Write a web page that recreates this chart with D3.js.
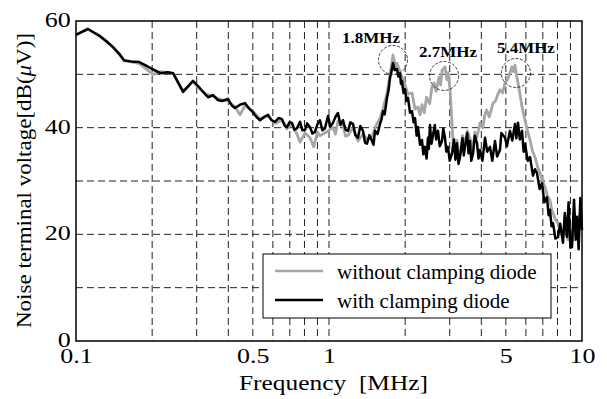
<!DOCTYPE html>
<html>
<head>
<meta charset="utf-8">
<script src="https://cdn.jsdelivr.net/npm/d3@7"></script>
<style>
  body { margin: 0; background: #fff; }
  text { font-family: "Liberation Serif", "Times New Roman", serif; }
</style>
</head>
<body>
<div id="chart"></div>
<script>
// data (frequency in MHz, level in dB(uV))
var freqGray = [0.100,0.1115,0.124,0.140,0.155,0.178,0.192,0.2015,0.217,0.242,0.265,0.290,0.309,0.3265,0.348,0.378,0.399,0.425,0.445,0.466,0.500,0.534,0.574,0.612,0.652,0.682,0.714,0.747,0.768,0.804,0.841,0.870,0.900,0.921,0.964,0.991,1.037,1.060,1.085,1.136,1.162,1.189,1.244,1.302,1.363,1.413,1.479,1.520,1.591,1.635,1.695,1.742,1.791,1.83,1.857,1.908,1.943,1.997,2.053,2.128,2.188,2.248,2.29,2.331,2.38,2.43,2.50,2.55,2.60,2.65,2.72,2.76,2.80,2.874,2.92,2.954,3.01,3.064,3.10,3.16,3.206,3.25,3.295,3.37,3.447,3.52,3.607,3.708,3.77,3.845,3.953,4.05,4.137,4.20,4.30,4.45,4.55,4.65,4.74,4.85,4.963,5.08,5.19,5.28,5.35,5.433,5.50,5.585,5.70,5.794,5.953,6.10,6.231,6.38,6.52,6.68,6.823,7.00,7.14,7.30,7.47,7.60,7.68,7.85,8.04,8.20,8.41,8.60,8.80,8.97,9.20,9.40,9.55,9.75,10.0];
var dbGray = [57.4,58.5,57.2,55.1,52.6,52.0,50.8,50.0,50.5,50.2,46.9,48.6,47.2,46.3,45.9,45.2,45.0,43.9,42.4,44.2,43.1,41.6,42.2,40.8,41.4,39.8,40.6,38.8,37.3,39.0,38.1,36.4,39.2,38.5,39.0,39.4,40.1,38.8,41.2,40.5,38.4,38.6,40.0,37.5,38.8,37.8,38.2,40.0,41.8,43.5,46.5,50.0,53.6,51.5,52.1,50.5,49.5,48.0,46.3,46.5,43.5,43.9,42.4,44.3,42.8,45.7,44.5,47.5,48.4,46.8,49.5,48.0,50.8,51.4,49.0,50.3,47.1,40.9,36.0,35.2,37.6,34.0,35.0,38.5,36.8,39.4,38.0,36.0,39.2,38.2,40.9,40.0,42.5,43.3,42.0,44.6,45.0,46.3,47.1,46.5,48.4,49.0,50.25,51.4,50.5,51.75,50.0,48.4,46.0,43.9,41.4,39.2,37.7,35.5,34.5,32.6,31.5,29.8,28.9,27.2,26.4,24.5,24.0,22.8,22.1,20.6,19.5,21.5,19.0,20.8,18.8,21.8,19.5,23.5,22.7];

var freqBlack = [0.100,0.106,0.1115,0.118,0.124,0.132,0.140,0.148,0.155,0.165,0.178,0.190,0.200,0.217,0.230,0.242,0.253,0.265,0.278,0.290,0.309,0.3265,0.3325,0.348,0.363,0.378,0.399,0.412,0.425,0.445,0.466,0.483,0.500,0.517,0.534,0.553,0.574,0.592,0.612,0.632,0.652,0.668,0.682,0.698,0.714,0.730,0.747,0.768,0.785,0.804,0.820,0.841,0.860,0.880,0.900,0.921,0.942,0.964,0.991,1.012,1.037,1.060,1.085,1.110,1.136,1.162,1.189,1.215,1.244,1.272,1.302,1.330,1.363,1.388,1.413,1.445,1.479,1.500,1.520,1.555,1.591,1.612,1.635,1.66,1.695,1.72,1.742,1.765,1.791,1.82,1.857,1.88,1.908,1.925,1.943,1.97,1.997,2.025,2.053,2.09,2.128,2.16,2.188,2.22,2.248,2.29,2.331,2.36,2.395,2.43,2.462,2.48,2.507,2.54,2.576,2.62,2.65,2.697,2.74,2.797,2.83,2.874,2.91,2.954,3.00,3.064,3.12,3.16,3.206,3.25,3.295,3.37,3.41,3.447,3.52,3.56,3.607,3.65,3.708,3.77,3.845,3.90,3.953,4.04,4.137,4.22,4.329,4.42,4.53,4.62,4.74,4.80,4.963,5.05,5.19,5.30,5.433,5.50,5.585,5.68,5.794,5.88,5.953,6.10,6.231,6.40,6.52,6.637,6.80,6.95,7.10,7.27,7.38,7.47,7.58,7.68,7.85,8.04,8.20,8.41,8.55,8.72,8.85,9.00,9.13,9.30,9.45,9.55,9.70,9.85,10.0];
var dbBlack = [57.4,58.0,58.5,57.8,57.2,56.2,55.1,53.9,52.6,52.4,52.3,51.6,51.0,50.2,50.4,50.2,48.5,46.7,47.8,48.8,47.4,46.1,45.7,46.1,45.2,45.0,45.4,44.2,43.7,44.3,44.6,43.6,42.9,42.0,41.4,42.0,42.4,41.4,41.1,41.8,41.6,40.4,40.1,41.0,40.9,39.6,39.9,41.1,39.5,39.6,40.8,40.1,38.9,39.2,40.6,41.4,39.5,39.9,42.2,40.2,40.9,42.0,42.75,40.5,41.4,39.6,39.4,41.0,40.7,38.6,38.1,40.3,39.4,37.2,37.0,38.6,37.5,36.8,39.4,38.8,40.7,41.5,43.1,42.5,45.6,47.0,49.3,50.5,52.1,50.8,51.0,49.6,50.2,48.2,48.75,46.5,47.2,45.0,45.6,42.8,43.1,41.0,41.8,38.5,40.1,36.8,37.7,35.0,36.4,34.2,38.1,36.0,40.5,37.0,38.6,40.5,37.8,39.4,36.5,37.5,39.8,38.1,35.5,36.4,33.8,35.2,37.8,34.0,37.1,33.2,34.5,38.0,34.8,36.4,39.0,35.2,37.5,33.8,35.1,38.5,37.1,34.2,35.8,33.8,38.1,35.5,36.4,33.8,37.5,34.6,35.8,39.0,38.1,36.5,39.4,37.6,40.7,38.0,40.9,37.8,39.4,35.5,37.0,33.8,34.5,31.0,32.2,31.5,28.5,29.6,26.0,27.0,23.6,24.6,21.5,22.1,19.2,19.5,22.0,18.4,24.0,19.5,26.0,17.5,17.6,26.5,19.0,23.3,17.2,26.8,20.8];

var seriesNames = ["without clamping diode", "with clamping diode"];
var xTicks = [0.1, 0.5, 1, 5, 10];
var yTicks = [0, 20, 40, 60];
var xGrid = [0.2,0.3,0.4,0.5,0.6,0.7,0.8,0.9,1,2,3,4,5,6,7,8,9];
var yGrid = [10, 20, 30, 40, 50];

// peak markers
var peakLabels = ["1.8MHz", "2.7MHz", "5.4MHz"];
var peakFreq = [1.79, 2.85, 5.48];
var peakDb = [52.7, 49.7, 50.25];

var margin = { top: 21, right: 25, bottom: 58, left: 76 };
var width = 607 - margin.left - margin.right;
var height = 399 - margin.top - margin.bottom;

var svg = d3.select("#chart")
  .append("svg")
    .attr("width", 607)
    .attr("height", 399)
  .append("g")
    .attr("transform", `translate(${margin.left},${margin.top})`);

var xScale = d3.scaleLog().domain([0.1, 10]).range([0, width]);
var yScale = d3.scaleLinear().domain([0, 60]).range([height, 0]);

// dashed grid
svg.selectAll(".vgrid")
  .data(xGrid)
  .enter().append("line")
  .attr("x1", d => xScale(d)).attr("x2", d => xScale(d))
  .attr("y1", 0).attr("y2", height)
  .attr("stroke", "#222").attr("stroke-width", 1)
  .attr("stroke-dasharray", "7,4");

svg.selectAll(".hgrid")
  .data(yGrid)
  .enter().append("line")
  .attr("x1", 0).attr("x2", width)
  .attr("y1", d => yScale(d)).attr("y2", d => yScale(d))
  .attr("stroke", "#222").attr("stroke-width", 1)
  .attr("stroke-dasharray", "7,4");

var line = d3.line()
  .x(d => xScale(d[0]))
  .y(d => yScale(d[1]));

svg.append("path")
  .datum(d3.zip(freqGray, dbGray))
  .attr("fill", "none")
  .attr("stroke", "#a6a6a6")
  .attr("stroke-width", 2.8)
  .attr("stroke-linejoin", "round")
  .attr("d", line);

svg.append("path")
  .datum(d3.zip(freqBlack, dbBlack))
  .attr("fill", "none")
  .attr("stroke", "#000")
  .attr("stroke-width", 2.5)
  .attr("stroke-linejoin", "round")
  .attr("d", line);

// frame
svg.append("rect")
  .attr("width", width).attr("height", height)
  .attr("fill", "none").attr("stroke", "#000").attr("stroke-width", 1.5);

// axes (labels only) - the scanned type is wide, so stretch it sideways
var xAxis = svg.append("g")
  .attr("transform", "translate(0," + height + ")")
  .call(d3.axisBottom(xScale).tickValues(xTicks).tickSize(0).tickPadding(8).tickFormat(d => d));
var yAxis = svg.append("g")
  .call(d3.axisLeft(yScale).tickValues(yTicks).tickSize(0).tickPadding(4).tickFormat(d => d));
xAxis.select(".domain").remove();
yAxis.select(".domain").remove();
svg.selectAll(".tick text")
  .style("font-family", "'Liberation Serif', serif")
  .style("font-size", "20px")
  .attr("fill", "#000")
  .attr("transform", "scale(1.3,1)");
yAxis.selectAll(".tick text").attr("dy", "0.28em");

svg.append("text")
  .attr("x", 163)
  .attr("y", height + 49)
  .attr("textLength", 189)
  .attr("lengthAdjust", "spacingAndGlyphs")
  .style("font-size", "20px")
  .attr("xml:space", "preserve")
  .text("Frequency  [MHz]");

var ylab = svg.append("text")
  .attr("transform", "rotate(-90)")
  .attr("x", 0 - 307)
  .attr("y", -45)
  .attr("textLength", 295)
  .attr("lengthAdjust", "spacingAndGlyphs")
  .style("font-size", "20px");
ylab.append("tspan").text("Noise terminal voltage[dB(");
ylab.append("tspan").style("font-style", "italic").text("\u03bc");
ylab.append("tspan").text("V)]");

// peak circles and labels
var labelOffset = [[-22, -17], [4, -19], [10, -20]];
peakLabels.forEach(function(lbl, i) {
  var cx = xScale(peakFreq[i]), cy = yScale(peakDb[i]);
  svg.append("circle")
    .attr("cx", cx).attr("cy", cy).attr("r", 14.5)
    .attr("fill", "none").attr("stroke", "#222")
    .attr("stroke-width", 0.9).attr("stroke-dasharray", "3,1.5");
  svg.append("text")
    .attr("x", cx + labelOffset[i][0] - 29)
    .attr("y", cy + labelOffset[i][1])
    .attr("textLength", 58)
    .attr("lengthAdjust", "spacingAndGlyphs")
    .style("font-size", "15px")
    .style("font-weight", "bold")
    .text(lbl);
});

// legend
var legend = svg.append("g").attr("transform", "translate(187,233)");
legend.append("rect")
  .attr("width", 288).attr("height", 64)
  .attr("fill", "#fff").attr("stroke", "#000").attr("stroke-width", 1);
var legendColors = ["#a6a6a6", "#000"];
seriesNames.forEach(function(name, i) {
  legend.append("line")
    .attr("x1", 12).attr("x2", 60)
    .attr("y1", 17 + i * 29).attr("y2", 17 + i * 29)
    .attr("stroke", legendColors[i]).attr("stroke-width", 2.5);
  legend.append("text")
    .attr("x", 74).attr("y", 25 + i * 29)
    .style("font-size", "21px")
    .text(name);
});
</script>
</body>
</html>
